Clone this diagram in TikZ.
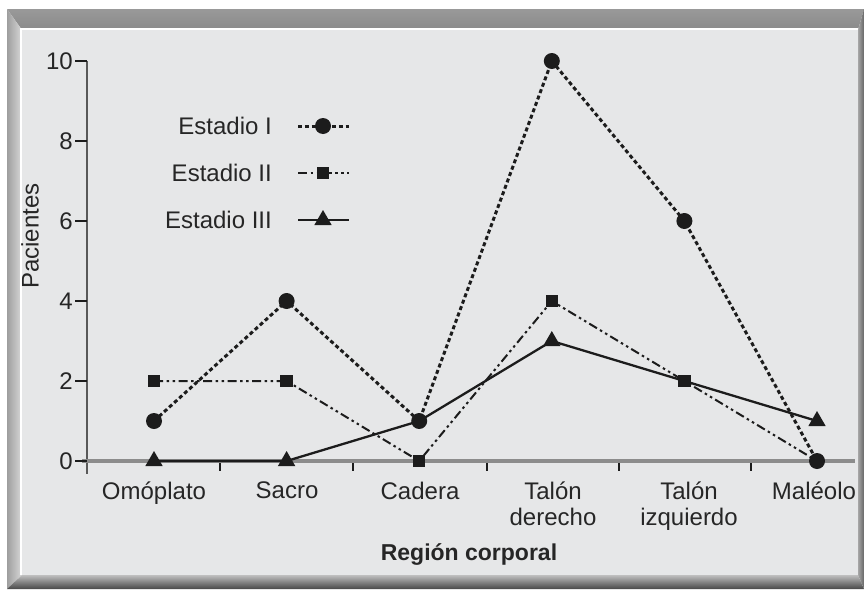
\documentclass[tikz,border=0pt]{standalone}
\usepackage{fontspec}
\setmainfont{Liberation Sans}
\usetikzlibrary{shapes.geometric}

\definecolor{fondo}{HTML}{E6E7E8}
\definecolor{linea}{HTML}{1C1C1C}
\definecolor{texto}{HTML}{262626}

\tikzset{rotulo/.style={font=\fontsize{24}{26}\selectfont,text=texto,inner sep=0pt},
titulo/.style={font=\fontsize{23}{26}\selectfont\bfseries,text=texto,inner sep=0pt},
marca/.style={fill=linea,inner sep=0pt},
circulo/.style={marca,circle,minimum size=16pt},
cuadro/.style={marca,rectangle,minimum size=12.5pt},
triangulo/.style={marca,regular polygon,regular polygon sides=3,minimum size=20pt},
estI/.style={draw=linea,line width=3pt,dash pattern=on 4pt off 2.8pt},
estII/.style={draw=linea,line width=2pt,dash pattern=on 9pt off 3.5pt on 2.5pt off 3.5pt on 2.5pt off 3.5pt},
estIII/.style={draw=linea,line width=2.3pt}}

\begin{document}
\begin{tikzpicture}
[x=1pt,y=-1pt,
eje/.style={draw=black!65,line width=2.5pt},
ejex/.style={draw=black!45,line width=4.5pt},
muesca/.style={draw=linea,line width=1.6pt}]
\useasboundingbox (0,0) rectangle (864,589);
% marco
\fill[white] (0,0) rectangle (864,589);
\shade[top color=black!40,bottom color=black!46] (7,9) -- (864,9) -- (858,30) -- (22,30) -- cycle;
\shade[left color=black!38,right color=black!15] (7,9) -- (22,30) -- (22,575) -- (7,589) -- cycle;
\shade[top color=black!25,bottom color=black!72] (7,589) -- (22,575) -- (858,575) -- (864,589) -- cycle;
\shade[left color=black!35,right color=black!60] (864,9) -- (858,30) -- (858,575) -- (864,589) -- cycle;
\fill[fondo] (22,30) rectangle (858,575);
\draw[white,line width=1.5pt] (21,575) -- (21,29) -- (858,29);
% ejes
\draw[eje] (87,61) -- (87,474);
\draw[ejex] (82,461) -- (855,461);
\foreach \v in {0,2,...,10}{
\draw[muesca] (75,{461-40*\v}) -- (87,{461-40*\v});
\node[rotulo,anchor=east] (ny\v) at (73,{461-40*\v}) {\v};
}
\foreach \x in {220,353,487,619,751}
\draw[muesca] (\x,463) -- (\x,471);
\foreach \x/\t [count=\i] in {154/Omóplato,287/Sacro,420/Cadera,553/Talón\\derecho,689/Talón\\izquierdo,814/Maléolo}
\node[rotulo,anchor=north,align=center] (nx\i) at (\x,482) {\t};
\node[rotulo,rotate=90] (ejey) at (30,236) {Pacientes};
\node[titulo,anchor=base] (ejex) at (469,560) {Región corporal};
% datos
\foreach \a/\b/\c [count=\i] in {1/2/0,4/2/0,1/0/1,10/4/3,6/2/2,0/0/1}{
\coordinate (a\i) at ({154+132.6*(\i-1)},{461-40*\a});
\coordinate (b\i) at ({154+132.6*(\i-1)},{461-40*\b});
\coordinate (c\i) at ({154+132.6*(\i-1)},{461-40*\c});
}
\draw[estIII] (c1) -- (c2) -- (c3) -- (c4) -- (c5) -- (c6);
\draw[estII] (b1) -- (b2) -- (b3) -- (b4) -- (b5) -- (b6);
\draw[estI] (a1) -- (a2) -- (a3) -- (a4) -- (a5) -- (a6);
\foreach \i in {1,2,4,6} \node[triangulo] (mc\i) at (c\i) {};
\foreach \i in {1,...,5} \node[cuadro] (mb\i) at (b\i) {};
\foreach \i in {1,...,6} \node[circulo] (ma\i) at (a\i) {};
% leyenda
\foreach \t/\e/\m [count=\i] in {Estadio I/estI/circulo,Estadio II/estII/cuadro,Estadio III/estIII/triangulo}{
\node[rotulo,anchor=east] (ley\i) at (272,{126+47*(\i-1)}) {\t};
\coordinate (li\i) at (298,{126+47*(\i-1)});
\coordinate (ld\i) at (349,{126+47*(\i-1)});
\draw[\e] (li\i) -- (ld\i);
\node[\m] (lm\i) at (323,{126+47*(\i-1)}) {};
}
\end{tikzpicture}
\end{document}
